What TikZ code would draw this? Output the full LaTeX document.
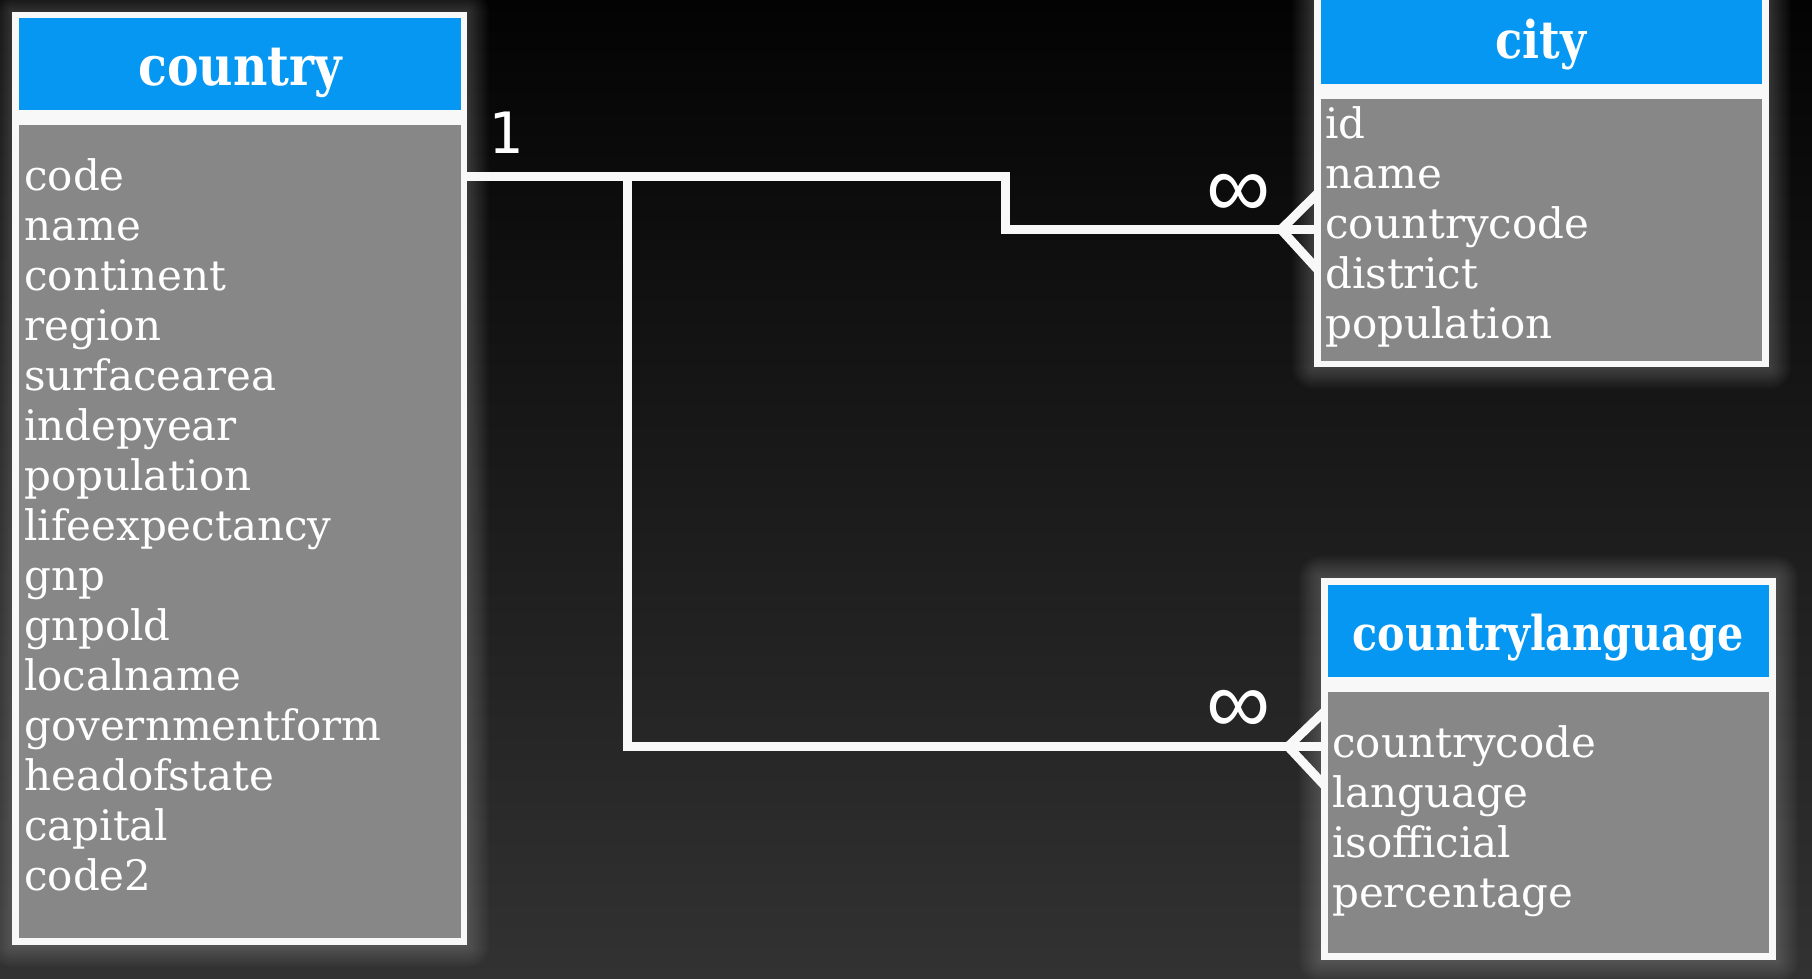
\documentclass[tikz,border=0pt]{standalone}
\usepackage{fontspec}
\newfontfamily\fieldfont{DejaVu Serif}
\newfontfamily\titlefont{DejaVu Serif}
\newfontfamily\numfont{DejaVu Sans Mono}
\newfontfamily\symbfont{Liberation Sans}
\definecolor{hdrblue}{RGB}{5,151,242}
\definecolor{bodygrey}{RGB}{135,135,135}
\definecolor{framew}{RGB}{248,248,248}
\definecolor{bgtop}{RGB}{3,3,3}
\definecolor{bgmid}{RGB}{26,26,26}
\definecolor{bgbot}{RGB}{50,50,50}
\newcommand\myglow[4]{%
  \foreach \g in {2,4,...,22}{%
    \fill[white,opacity=0.018,rounded corners=\g pt] (#1-\g,#2-\g) rectangle (#3+\g,#4+\g);}}
\tikzset{
  frame/.style={draw=none,fill=framew,inner sep=0pt,outer sep=0pt,anchor=north west},
  header/.style={draw=none,fill=hdrblue,inner sep=0pt,outer sep=0pt,anchor=north west},
  tbody/.style={draw=none,fill=bodygrey,inner sep=0pt,outer sep=0pt,anchor=north west},
  title/.style={text=white,inner sep=0pt,anchor=base,font=\titlefont\bfseries},
  field/.style={text=white,inner sep=0pt,anchor=base west,font=\fieldfont\fontsize{42}{50}\selectfont},
  link/.style={draw=framew,line width=9pt,line cap=butt,line join=miter},
  card/.style={text=white,inner sep=0pt}
}
\begin{document}
\begin{tikzpicture}[x=1pt,y=-1pt]
\useasboundingbox (0,0) rectangle (1812,978);
\shade[top color=bgtop,middle color=bgmid,bottom color=bgbot] (0,0) rectangle (1812,978);
% glows
\myglow{12}{12}{467}{945}
\myglow{1314}{-10}{1769}{367}
\myglow{1321}{578}{1776}{960}
% junction coordinates
\coordinate (j1) at (627,176);
\coordinate (j2) at (1005,176);
\coordinate (j3) at (1005,229.5);
\coordinate (fk1) at (1281,229.5);
\coordinate (j4) at (627,746.5);
\coordinate (fk2) at (1288,746.5);
\coordinate (p1) at (1318,193);
\coordinate (p2) at (1318,270);
\coordinate (p3) at (1325,711);
\coordinate (p4) at (1325,786);
% connectors
\coordinate (cstart) at (467,176);
\coordinate (cityin) at (1318,229.5);
\coordinate (clin) at (1325,746.5);
\draw[link] (cstart) -- (j2) -- (j3) -- (cityin);
\draw[link] (j1) -- (j4) -- (clin);
\draw[link] (p1) -- (fk1) -- (p2);
\draw[link] (p3) -- (fk2) -- (p4);
% country table
\node[frame,minimum width=455pt,minimum height=933pt] (countryframe) at (12,12) {};
\node[header,minimum width=442pt,minimum height=92pt] (countryhead) at (19,18) {};
\node[tbody,minimum width=442pt,minimum height=813pt] (countrybody) at (19,125) {};
\node[title] (countrytitle) at (240,85) {\fontsize{55}{55}\selectfont\scalebox{0.86}[1]{country}};
\foreach \t [count=\i from 0] in {code,name,continent,region,surfacearea,indepyear,population,lifeexpectancy,gnp,gnpold,localname,governmentform,headofstate,capital,code2}
  \node[field] (cf\i) at (24,{190+50*\i}) {\t};
% city table
\node[frame,minimum width=455pt,minimum height=377pt] (cityframe) at (1314,-10) {};
\node[header,minimum width=441pt,minimum height=94pt] (cityhead) at (1321,-10) {};
\node[tbody,minimum width=441pt,minimum height=262pt] (citybody) at (1321,99) {};
\node[title] (citytitle) at (1541,58) {\fontsize{52}{52}\selectfont\scalebox{0.86}[1]{city}};
\foreach \t [count=\i from 0] in {id,name,countrycode,district,population}
  \node[field] (tf\i) at (1325,{138+50*\i}) {\t};
% countrylanguage table
\node[frame,minimum width=455pt,minimum height=382pt] (clframe) at (1321,578) {};
\node[header,minimum width=441pt,minimum height=92pt] (clhead) at (1328,585) {};
\node[tbody,minimum width=441pt,minimum height=261pt] (clbody) at (1328,692) {};
\node[title] (cltitle) at (1548,650) {\fontsize{48}{48}\selectfont\scalebox{0.86}[1]{countrylanguage}};
\foreach \t [count=\i from 0] in {countrycode,language,isofficial,percentage}
  \node[field] (lf\i) at (1332,{757+50*\i}) {\t};
% cardinalities
\node[card,font=\numfont\fontsize{57}{57}\selectfont] (one) at (506,133) {1};
\node[card,font=\symbfont\fontsize{90}{90}\selectfont] (manycity) at (1239,196) {∞};
\node[card,font=\symbfont\fontsize{90}{90}\selectfont] (manycl) at (1239,712) {∞};
\end{tikzpicture}
\end{document}
